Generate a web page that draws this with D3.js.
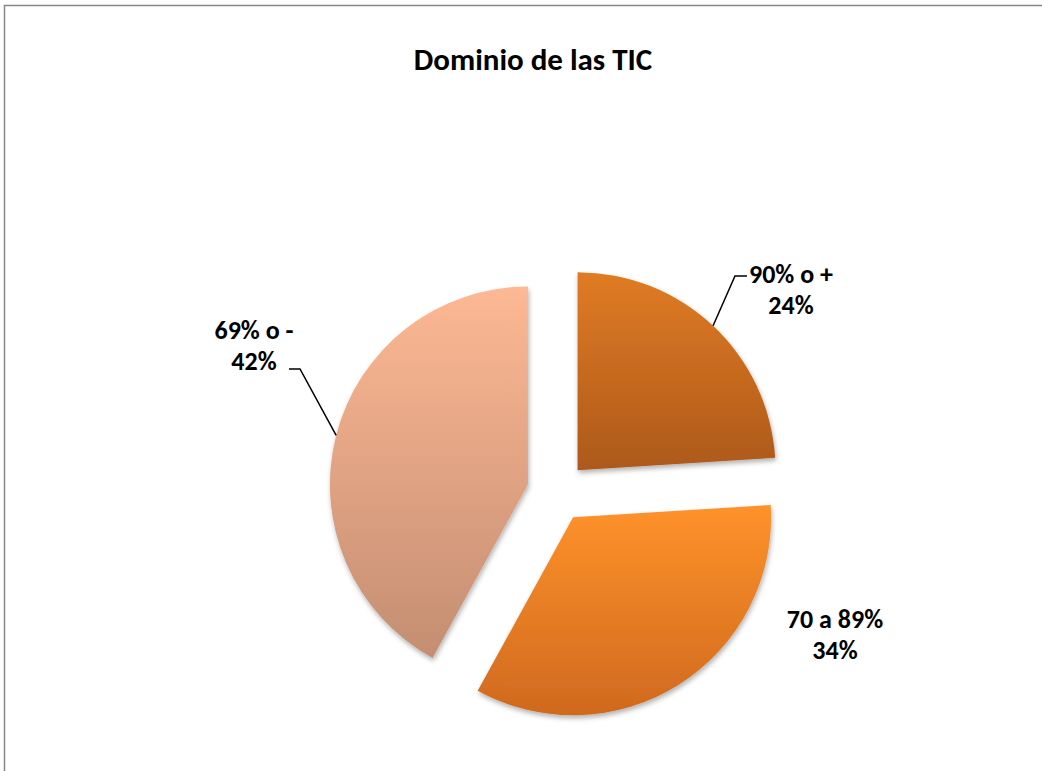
<!DOCTYPE html>
<html>
<head>
<meta charset="utf-8">
<script src="https://cdn.jsdelivr.net/npm/d3@7"></script>
<style>
  body { margin: 0; background: #fff; }
  svg { display: block; }
</style>
</head>
<body>
<div id="chart"></div>
<script>
//chart data
var categories = ["90% o +", "70 a 89%", "69% o -"];
var values = [24, 34, 42];
var percentLabels = ["24%", "34%", "42%"];

//slice colours, top and bottom of the gradient
var topColors = ["#e07b24", "#ff922b", "#fdb894"];
var bottomColors = ["#ad591a", "#cf691e", "#c48e72"];

const width = 1042, height = 771;
const cx = 557, cy = 492, radius = 198, explode = 30;

const svg = d3.select("#chart").append("svg")
    .attr("width", width)
    .attr("height", height);

const defs = svg.append("defs");

//soft shadow under slices
const shadow = defs.append("filter")
    .attr("id", "shadow")
    .attr("x", "-20%").attr("y", "-20%")
    .attr("width", "140%").attr("height", "140%");
shadow.append("feDropShadow")
    .attr("dx", 1).attr("dy", 3)
    .attr("stdDeviation", 2.5)
    .attr("flood-color", "#000")
    .attr("flood-opacity", 0.3);

//vertical gradients per slice
categories.forEach(function(c, i){
    const g = defs.append("linearGradient")
        .attr("id", "grad" + i)
        .attr("x1", 0).attr("y1", 0)
        .attr("x2", 0).attr("y2", 1);
    g.append("stop").attr("offset", "0%").attr("stop-color", topColors[i]);
    g.append("stop").attr("offset", "100%").attr("stop-color", bottomColors[i]);
});

//outer border of the chart area
svg.append("rect")
    .attr("x", 4.5).attr("y", 5.5)
    .attr("width", 1200).attr("height", 1000)
    .attr("fill", "none")
    .attr("stroke", "#878787")
    .attr("stroke-width", 1.5);

//title
svg.append("text")
    .attr("x", 533)
    .attr("y", 70)
    .attr("text-anchor", "middle")
    .attr("font-family", "Carlito, 'Open Sans', sans-serif")
    .attr("font-weight", "bold")
    .attr("font-size", "31px")
    .attr("fill", "#000")
    .text("Dominio de las TIC");

//pie layout, starting at 12 o'clock, clockwise, no sorting
const pie = d3.pie().sort(null).value(function(d){ return d; });
const arcs = pie(values);

const arc = d3.arc().innerRadius(0).outerRadius(radius);

function offset(d){
    const a = (d.startAngle + d.endAngle) / 2;
    return [Math.sin(a) * explode, -Math.cos(a) * explode];
}

const slices = svg.append("g")
    .attr("transform", "translate(" + cx + "," + cy + ")");

slices.selectAll("path")
    .data(arcs)
    .enter().append("path")
    .attr("transform", function(d){
        const o = offset(d);
        return "translate(" + o[0] + "," + o[1] + ")";
    })
    .attr("d", arc)
    .attr("fill", function(d, i){ return "url(#grad" + i + ")"; })
    .attr("filter", "url(#shadow)");

//label placement (layout only)
var labelPos = [[791, 283], [835, 628], [254, 339]];
//leader elbows: [elbow point, end point] or null
var leaders = [[[735, 276], [747, 276]], null, [[300, 369], [289, 369]]];

const labels = svg.append("g")
    .attr("font-family", "Carlito, 'Open Sans', sans-serif")
    .attr("font-weight", "bold")
    .attr("font-size", "26px")
    .attr("fill", "#000")
    .attr("text-anchor", "middle");

arcs.forEach(function(d, i){
    const t = labels.append("text")
        .attr("x", labelPos[i][0])
        .attr("y", labelPos[i][1]);
    t.append("tspan").attr("x", labelPos[i][0]).text(categories[i]);
    t.append("tspan").attr("x", labelPos[i][0]).attr("dy", "31").text(percentLabels[i]);

    if (leaders[i]) {
        const a = (d.startAngle + d.endAngle) / 2;
        const o = offset(d);
        const px = cx + o[0] + Math.sin(a) * radius;
        const py = cy + o[1] - Math.cos(a) * radius;
        svg.append("path")
            .attr("d", "M" + px + "," + py +
                " L" + leaders[i][0][0] + "," + leaders[i][0][1] +
                " L" + leaders[i][1][0] + "," + leaders[i][1][1])
            .attr("fill", "none")
            .attr("stroke", "#000")
            .attr("stroke-width", 1.5);
    }
});
</script>
</body>
</html>
